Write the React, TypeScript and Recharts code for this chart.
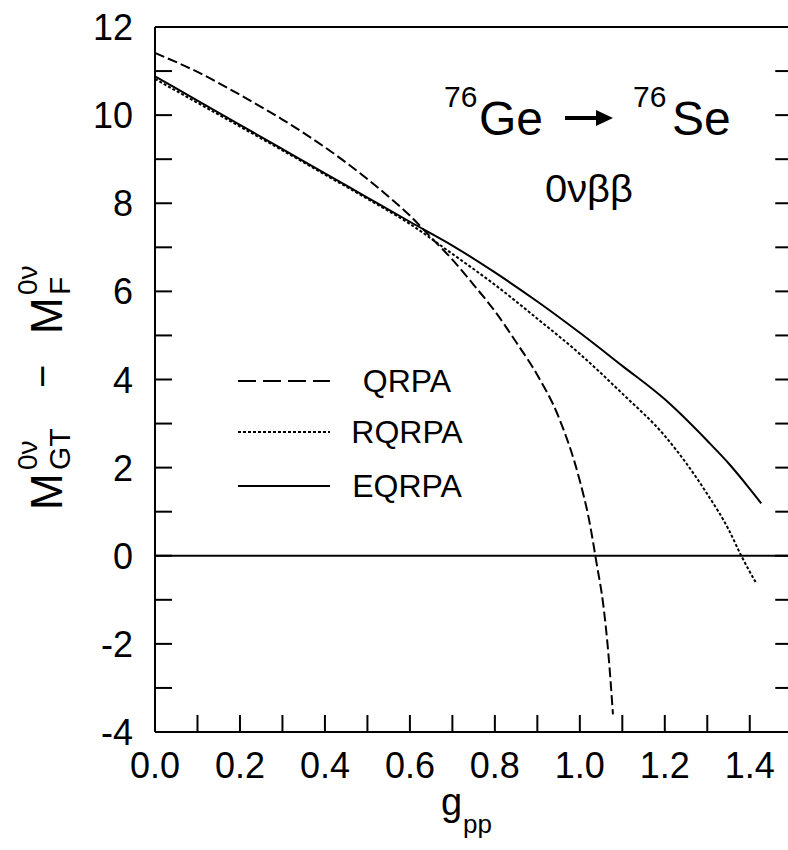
import React from "react";
import {
  LineChart,
  Line,
  XAxis,
  YAxis,
  ReferenceLine,
  Legend,
  Customized,
} from "recharts";

// g_pp values and M_GT - M_F
const qrpaG = [0, 0.1, 0.2, 0.3, 0.4, 0.5, 0.55, 0.6, 0.65, 0.7, 0.75, 0.8, 0.85, 0.9, 0.95, 1.0, 1.02, 1.04, 1.055, 1.067, 1.078];
const qrpaM = [11.41, 10.98, 10.46, 9.9, 9.27, 8.55, 8.15, 7.72, 7.22, 6.72, 6.15, 5.55, 4.85, 4.1, 3.15, 1.7, 0.9, -0.2, -1.1, -2.2, -3.6];

const rqrpaG = [0, 0.1, 0.2, 0.3, 0.4, 0.5, 0.6, 0.7, 0.8, 0.9, 1.0, 1.1, 1.2, 1.3, 1.35, 1.38, 1.415];
const rqrpaM = [10.82, 10.28, 9.74, 9.2, 8.65, 8.1, 7.53, 6.85, 6.15, 5.38, 4.58, 3.68, 2.72, 1.4, 0.6, 0.0, -0.62];

const eqrpaG = [0, 0.1, 0.2, 0.3, 0.4, 0.5, 0.6, 0.7, 0.8, 0.9, 1.0, 1.1, 1.2, 1.3, 1.35, 1.4, 1.427];
const eqrpaM = [10.88, 10.33, 9.78, 9.23, 8.68, 8.13, 7.58, 7.04, 6.43, 5.77, 5.06, 4.31, 3.55, 2.61, 2.1, 1.52, 1.19];

const xTicks = [0, 0.1, 0.2, 0.3, 0.4, 0.5, 0.6, 0.7, 0.8, 0.9, 1.0, 1.1, 1.2, 1.3, 1.4];
const yTicks = [-4, -3, -2, -1, 0, 1, 2, 3, 4, 5, 6, 7, 8, 9, 10, 11, 12];
const seriesNames = ["QRPA", "RQRPA", "EQRPA"];
const seriesDash = ["18 7", "3 2", undefined];

const toPoints = (gs: number[], ms: number[]) => gs.map((g, i) => ({ g, v: ms[i] }));
const qrpaData = toPoints(qrpaG, qrpaM);
const rqrpaData = toPoints(rqrpaG, rqrpaM);
const eqrpaData = toPoints(eqrpaG, eqrpaM);

const FONT = "'Liberation Sans', Arial, sans-serif";
const INK = "#000";
const X_MAX = 1.49;

const XTick = ({ x, y, payload }: any) => {
  const v = payload.value;
  const major = Math.round(v * 10) % 2 === 0;
  return (
    <g>
      <line x1={x} x2={x} y1={y} y2={y - 17} stroke={INK} strokeWidth={2} />
      {major && (
        <text x={x} y={y + 46} textAnchor="middle" fontSize={36} fontFamily={FONT} fill={INK}>
          {v.toFixed(1)}
        </text>
      )}
    </g>
  );
};

const YTickLeft = ({ x, y, payload }: any) => {
  const v = payload.value;
  return (
    <g>
      <line x1={x} x2={x + 17} y1={y} y2={y} stroke={INK} strokeWidth={2} />
      {v % 2 === 0 && (
        <text x={x - 22} y={y + 13} textAnchor="end" fontSize={36} fontFamily={FONT} fill={INK}>
          {String(v)}
        </text>
      )}
    </g>
  );
};

const LegendBox = () => (
  <svg width={270} height={160}>
    {seriesNames.map((name, i) => {
      const cy = [31, 82, 136][i];
      return (
        <g key={name}>
          <line x1={8} x2={100} y1={cy} y2={cy} stroke={INK} strokeWidth={2} strokeDasharray={seriesDash[i]} />
          <text x={177} y={cy + 11} textAnchor="middle" fontSize={32} fontFamily={FONT} fill={INK}>
            {name}
          </text>
        </g>
      );
    })}
  </svg>
);

const Annotations = () => (
  <g fontFamily={FONT} fill={INK}>
    {/* reaction title */}
    <text x={444} y={107} fontSize={30}>76</text>
    <text x={479} y={135} fontSize={48}>Ge</text>
    <line x1={565} x2={598} y1={118} y2={118} stroke={INK} strokeWidth={4} />
    <polygon points="596,110 613,118 596,126" fill={INK} />
    <text x={633} y={107} fontSize={30}>76</text>
    <text x={672} y={135} fontSize={48}>Se</text>
    <text x={545} y={202} fontSize={38} textLength={88} lengthAdjust="spacingAndGlyphs">0νββ</text>

    {/* x label */}
    <text x={441} y={815} fontSize={38}>g</text>
    <text x={463} y={833} fontSize={26}>pp</text>

    {/* y label */}
    <g transform="translate(62, 510) rotate(-90)">
      <text x={0} y={0} fontSize={44}>M</text>
      <text x={40} y={-25} fontSize={28}>0ν</text>
      <text x={40} y={8} fontSize={30}>GT</text>
      <text x={122} y={-6} fontSize={40}>−</text>
      <text x={176} y={0} fontSize={44}>M</text>
      <text x={215} y={-25} fontSize={28}>0ν</text>
      <text x={215} y={8} fontSize={30}>F</text>
    </g>
  </g>
);

export default function App() {
  return (
    <div style={{ position: "absolute", left: 0, top: 0, width: 788, height: 850, background: "#fff" }}>
      <LineChart width={788} height={850} margin={{ top: 27, right: 0, bottom: 58, left: 95 }}>
        <XAxis
          dataKey="g"
          type="number"
          domain={[0, X_MAX]}
          ticks={xTicks}
          interval={0}
          allowDataOverflow
          height={60}
          tickSize={0}
          tickMargin={0}
          tickLine={false}
          axisLine={{ stroke: INK, strokeWidth: 2 }}
          tick={<XTick />}
        />
        <YAxis
          type="number"
          domain={[-4, 12]}
          ticks={yTicks}
          interval={0}
          allowDataOverflow
          width={60}
          tickSize={0}
          tickMargin={0}
          tickLine={false}
          axisLine={{ stroke: INK, strokeWidth: 2 }}
          tick={<YTickLeft />}
        />
        <ReferenceLine y={12} stroke={INK} strokeWidth={2} />
        <ReferenceLine y={0} stroke={INK} strokeWidth={2} />
        {/* inward ticks of the right-hand frame */}
        {yTicks.map((v) => (
          <ReferenceLine
            key={`rt${v}`}
            segment={[{ x: 1.46, y: v }, { x: X_MAX, y: v }]}
            stroke={INK}
            strokeWidth={2}
          />
        ))}
        <Line data={qrpaData} dataKey="v" name="QRPA" type="monotone" stroke={INK} strokeWidth={2} strokeDasharray="10 4" dot={false} isAnimationActive={false} />
        <Line data={rqrpaData} dataKey="v" name="RQRPA" type="monotone" stroke={INK} strokeWidth={2} strokeDasharray="3 2" dot={false} isAnimationActive={false} />
        <Line data={eqrpaData} dataKey="v" name="EQRPA" type="monotone" stroke={INK} strokeWidth={2} dot={false} isAnimationActive={false} />
        <Legend
          layout="horizontal"
          align="center"
          verticalAlign="middle"
          content={<LegendBox />}
          wrapperStyle={{ left: 230, top: 350, width: 270 }}
        />
        <Customized component={<Annotations />} />
      </LineChart>
    </div>
  );
}
